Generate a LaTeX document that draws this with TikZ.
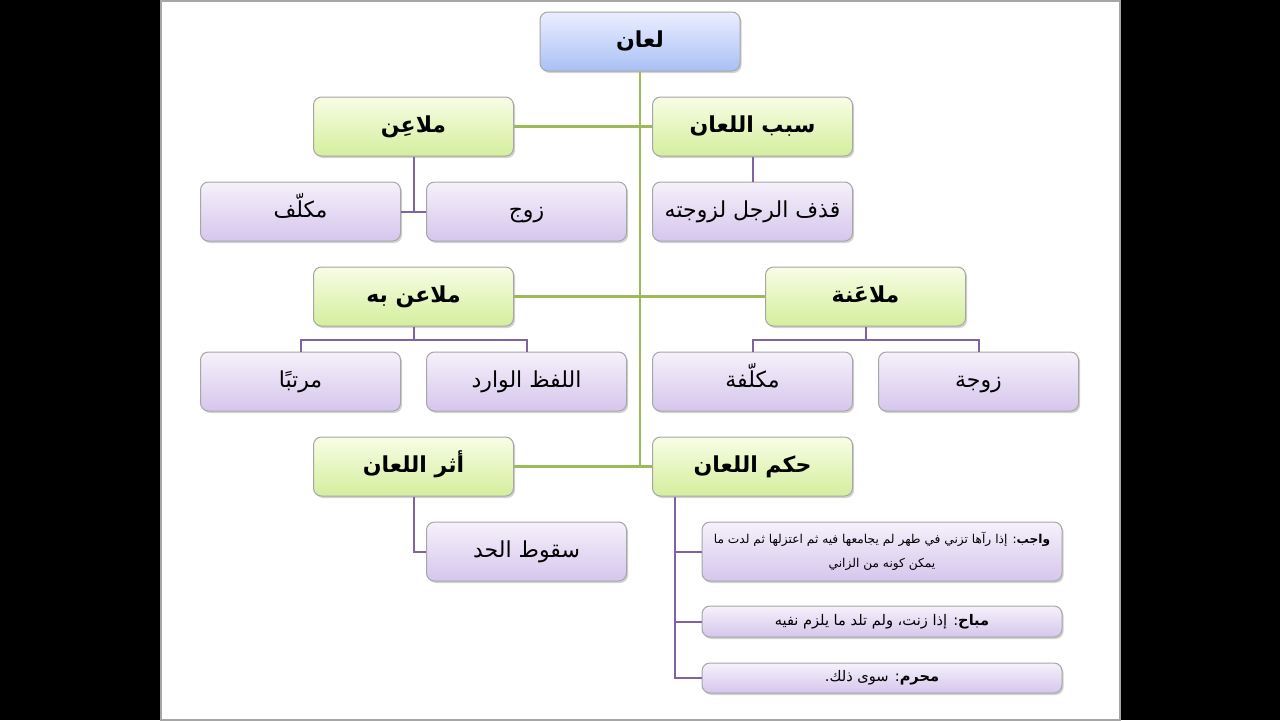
\documentclass[tikz,border=0pt]{standalone}
\usepackage{fontspec}
\newfontfamily\arabicfont[Script=Arabic]{DejaVu Sans}
\TeXXeTstate=1
\usetikzlibrary{shadows}
\definecolor{trunkgreen}{HTML}{9BBB59}
\definecolor{branchpurple}{HTML}{8064A2}
\definecolor{boxedge}{HTML}{A6A6A6}
\definecolor{roottop}{HTML}{ECEEFF}
\definecolor{rootbottom}{HTML}{A9C0F5}
\definecolor{topictop}{HTML}{F8FDE6}
\definecolor{topicbottom}{HTML}{D4EE9C}
\definecolor{itemtop}{HTML}{F6F1FB}
\definecolor{itembottom}{HTML}{D5C6EC}
\tikzset{
	card/.style={draw=boxedge, rounded corners=4pt, line width=0.5pt,
		minimum width=100pt, minimum height=29.5pt, inner sep=2pt,
		text height=8.5pt, text depth=3pt,
		drop shadow={shadow xshift=0.8pt, shadow yshift=-1pt, opacity=0.35},
		font=\arabicfont\fontsize{11}{13}\selectfont},
	rootbox/.style={card, top color=roottop, bottom color=rootbottom, font=\arabicfont\bfseries\fontsize{11}{13}\selectfont},
	topicbox/.style={card, top color=topictop, bottom color=topicbottom, font=\arabicfont\bfseries\fontsize{11}{13}\selectfont},
	itembox/.style={card, top color=itemtop, bottom color=itembottom},
	notebox/.style={itembox, minimum width=180pt, text height=, text depth=,
		font=\arabicfont\fontsize{6.1}{12}\selectfont},
	shortnote/.style={notebox, font=\arabicfont\fontsize{7.3}{9}\selectfont},
	trunk/.style={draw=trunkgreen, line width=1.2pt},
	branch/.style={draw=branchpurple, line width=1pt}
}
\begin{document}
\begin{tikzpicture}[x=0.5pt,y=-0.5pt]
		\useasboundingbox (0,0) rectangle (1280,720);
		\fill[black] (0,0) rectangle (1280,720);
		\fill[white, draw=gray!70, line width=1pt] (160.5,0.5) rectangle (1119.5,719.5);
		% root and topics
		\node[rootbox] at (640,41.5)(root){\beginR لعان\endR};
		\node[topicbox] at (413.5,126.5)(mulaain){\beginR ملاعِن\endR};
		\node[topicbox] at (752.5,126.5)(sabab){\beginR سبب اللعان\endR};
		\node[topicbox] at (413.5,296.5)(mulaanbih){\beginR ملاعن به\endR};
		\node[topicbox] at (865.5,296.5)(mulaana){\beginR ملاعَنة\endR};
		\node[topicbox] at (413.5,466.5)(athar){\beginR أثر اللعان\endR};
		\node[topicbox] at (752.5,466.5)(hukm){\beginR حكم اللعان\endR};
		% items
		\node[itembox] at (300.5,211.5)(mukallaf){\beginR مكلّف\endR};
		\node[itembox] at (526.5,211.5)(zawj){\beginR زوج\endR};
		\node[itembox] at (752.5,211.5)(qadhf){\beginR قذف الرجل لزوجته\endR};
		\node[itembox] at (300.5,381.5)(murattab){\beginR مرتبًا\endR};
		\node[itembox] at (526.5,381.5)(lafz){\beginR اللفظ الوارد\endR};
		\node[itembox] at (752.5,381.5)(mukallafa){\beginR مكلّفة\endR};
		\node[itembox] at (978.5,381.5)(zawja){\beginR زوجة\endR};
		\node[itembox] at (526.5,551.5)(suqut){\beginR سقوط الحد\endR};
		\node[notebox, align=center] at (882,551.5)(wajib){\beginR\textbf{واجب}: إذا رآها تزني في طهر لم يجامعها فيه ثم اعتزلها ثم لدت ما\endR\\\beginR يمكن كونه من الزاني\endR};
		\node[shortnote, minimum height=15.5pt] at (882,621.5)(mubah){\beginR\textbf{مباح}: إذا زنت، ولم تلد ما يلزم نفيه\endR};
		\node[shortnote, minimum height=15pt] at (882,678)(muharram){\beginR\textbf{محرم}: سوى ذلك.\endR};
		% green trunk
		\path[trunk] (root.south) -- (root.south |- hukm.west);
		\path[trunk] (mulaain.east) -- (sabab.west);
		\path[trunk] (mulaanbih.east) -- (mulaana.west);
		\path[trunk] (athar.east) -- (hukm.west);
		% purple branches
		\path[branch] (mulaain.south) |- (zawj.west) (mukallaf.east) -- (zawj.west);
		\path[branch] (sabab) -- (qadhf);
		\path[branch] (mulaanbih.south) -- ++(0,13) coordinate (bihjoin);
		\path[branch] (murattab.north) |- (bihjoin) -| (lafz.north);
		\path[branch] (mulaana.south) -- ++(0,13) coordinate (najoin);
		\path[branch] (mukallafa.north) |- (najoin) -| (zawja.north);
		\path[branch] (athar.south) |- (suqut.west);
		\coordinate (hukmstem) at ([xshift=11.5pt]hukm.south west);
		\path[branch] (hukmstem) |- (muharram.west);
		\foreach \n in {wajib,mubah}
			\path[branch] (hukmstem |- \n.west) -- (\n.west);
	\end{tikzpicture}
\end{document}
